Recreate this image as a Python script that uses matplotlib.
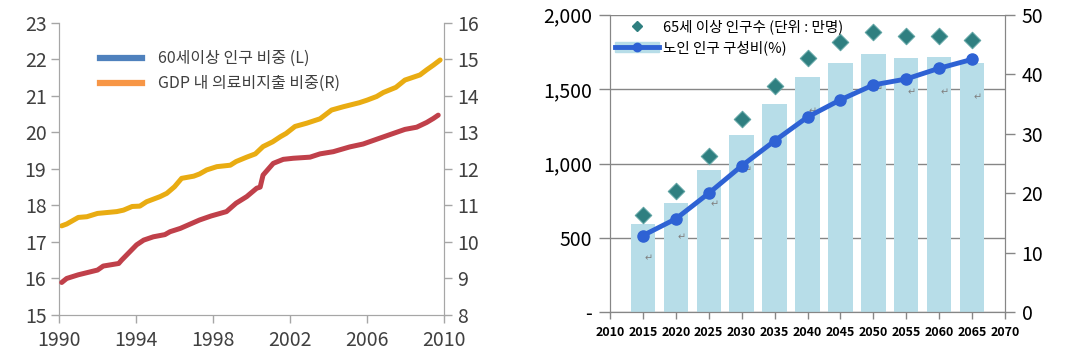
import numpy as np
import matplotlib.pyplot as plt
from matplotlib.lines import Line2D
from matplotlib.patches import Patch
from matplotlib.legend_handler import HandlerTuple

plt.rcParams['font.family'] = ['Noto Sans CJK KR', 'DejaVu Sans']

# ---- left chart: 60+ population share (L) and health spending share of GDP (R)
pop_years = [1990.14, 1990.4, 1991.0, 1992.0, 1992.3, 1993.1, 1993.25, 1994.03, 1994.4,
             1994.9, 1995.5, 1995.77, 1996.3, 1997.3, 1997.9, 1998.7, 1999.2, 1999.75,
             2000.27, 2000.45, 2000.6, 2001.13, 2001.65, 2002.17, 2003.04, 2003.56,
             2004.25, 2005.1, 2005.8, 2006.5, 2007.37, 2007.97, 2008.58, 2009.1,
             2009.45, 2009.7]
pop_share = [15.89, 16.0, 16.1, 16.23, 16.34, 16.41, 16.5, 16.92, 17.05,
             17.14, 17.2, 17.28, 17.37, 17.6, 17.71, 17.83, 18.06, 18.24,
             18.47, 18.5, 18.83, 19.15, 19.26, 19.29, 19.32, 19.41,
             19.47, 19.6, 19.68, 19.81, 19.97, 20.08, 20.14, 20.27,
             20.38, 20.47]

med_years = [1990.14, 1990.4, 1991.0, 1991.45, 1992.0, 1993.0, 1993.35, 1993.8, 1994.2,
             1994.55, 1995.25, 1995.6, 1996.0, 1996.37, 1997.0, 1997.3, 1997.67, 1998.2,
             1998.9, 1999.2, 1999.75, 2000.2, 2000.6, 2001.1, 2001.5, 2001.8, 2002.26,
             2002.87, 2003.56, 2004.16, 2004.77, 2005.6, 2006.0, 2006.5, 2006.85,
             2007.5, 2007.97, 2008.75, 2009.1, 2009.45, 2009.8]
med_share = [10.44, 10.49, 10.67, 10.69, 10.78, 10.83, 10.87, 10.97, 10.98,
             11.1, 11.24, 11.33, 11.51, 11.74, 11.8, 11.86, 11.97, 12.06,
             12.1, 12.2, 12.32, 12.41, 12.61, 12.74, 12.88, 12.97, 13.16,
             13.25, 13.37, 13.61, 13.7, 13.81, 13.88, 13.98, 14.09,
             14.23, 14.43, 14.57, 14.71, 14.84, 14.98]

left_legend = ['60세이상 인구 비중 (L)', 'GDP 내 의료비지출 비중(R)']

# ---- right chart: elderly population projections
proj_years = [2015, 2020, 2025, 2030, 2035, 2040, 2045, 2050, 2055, 2060, 2065]
bar_vals = [593, 737, 956, 1194, 1400, 1581, 1677, 1738, 1709, 1715, 1677]
elderly_pop = [654, 813, 1051, 1296, 1518, 1712, 1816, 1881, 1857, 1857, 1827]
elderly_ratio = [12.9, 15.7, 20.0, 24.6, 28.8, 32.8, 35.7, 38.2, 39.2, 41.0, 42.5]
mark_years = [2015, 2020, 2025, 2030, 2040, 2050, 2055, 2060, 2065]
mark_vals = [363, 504, 723, 956, 1348, 1498, 1476, 1476, 1442]
right_legend = ['65세 이상 인구수 (단위 : 만명)', '노인 인구 구성비(%)']

fig = plt.figure(figsize=(10.71, 3.61), dpi=100)

spine_c = '#A6A6A6'
txt_c = '#404040'

# ------------------ left chart
ax = fig.add_axes([59 / 1071, 1 - 315 / 361, 385 / 1071, 292.3 / 361])
ax2 = ax.twinx()
ax.plot(pop_years, pop_share, color='#C0404A', lw=3.6, solid_capstyle='round', zorder=3)
ax2.plot(med_years, med_share, color='#E9AC12', lw=3.6, solid_capstyle='round', zorder=3)
ax.set_xlim(1990, 2010)
ax.set_ylim(15, 23)
ax2.set_ylim(8, 16)
ax.set_xticks([1990, 1994, 1998, 2002, 2006, 2010])
ax.set_yticks(range(15, 24))
ax2.set_yticks(range(8, 17))
for a in (ax, ax2):
    a.spines['top'].set_visible(False)
    for s in ('left', 'right', 'bottom'):
        a.spines[s].set_color(spine_c)
    a.tick_params(colors=spine_c, labelcolor=txt_c, labelsize=14, length=6, width=1)
ax.tick_params(axis='x', pad=5)
ax.tick_params(axis='y', pad=3)
ax.set_zorder(ax2.get_zorder() + 1)
ax.patch.set_visible(False)
hl = [Line2D([], [], color='#4F81BD', lw=4.5), Line2D([], [], color='#F79646', lw=4.5)]
ax.legend(hl, left_legend, loc='upper left', bbox_to_anchor=(0.07, 0.955), frameon=False,
          fontsize=11.5, handlelength=2.6, handletextpad=1.0, labelspacing=0.5,
          labelcolor=txt_c)

# ------------------ right chart
bx = fig.add_axes([610 / 1071, 1 - 312.3 / 361, 395 / 1071, 297.6 / 361])
bx2 = bx.twinx()
bx.set_zorder(1)
bx2.set_zorder(2)
bx2.patch.set_visible(False)
bx.bar(proj_years, bar_vals, width=3.7, color='#B7DDE8', zorder=2)
bx.scatter(proj_years, elderly_pop, marker='D', s=70, color='#2F7F80',
           edgecolor='#5FA3A3', linewidth=0.8, zorder=4)
for yr, v in zip(mark_years, mark_vals):
    bx.annotate('↵', (yr, v), xytext=(4, 0), textcoords='offset points', fontsize=7,
                color='#808080', ha='center', va='center', zorder=5,
                family=['DejaVu Sans'])
bx2.plot(proj_years, elderly_ratio, color='#2E62D4', lw=3.5, marker='o', ms=8, zorder=5)
bx.set_xlim(2010, 2070)
bx.set_ylim(0, 2000)
bx2.set_ylim(0, 50)
bx.set_xticks(range(2010, 2071, 5))
bx.set_yticks([0, 500, 1000, 1500, 2000])
bx.set_yticklabels(['-', '500', '1,000', '1,500', '2,000'])
bx2.set_yticks(range(0, 51, 10))
bx.yaxis.grid(True, color='#868686', lw=1)
bx.set_axisbelow(True)
for a in (bx, bx2):
    a.spines['top'].set_visible(False)
    for s in ('left', 'right', 'bottom'):
        a.spines[s].set_color('#868686')
    a.tick_params(colors='#868686', labelcolor='black', labelsize=14, width=1)
bx.tick_params(axis='y', length=8, pad=5)
bx2.tick_params(axis='y', length=7, pad=5)
bx.tick_params(axis='x', length=5, labelsize=9, pad=5)
for lab in bx.get_xticklabels():
    lab.set_fontweight('bold')

h1 = Line2D([], [], ls='', marker='D', ms=5, color='#2F7F80')
h2 = (Patch(color='#B7DDE8'), Line2D([], [], color='#2E62D4', lw=3.5, marker='o', ms=6))
bx2.legend([h1, h2], right_legend, loc='upper left', bbox_to_anchor=(-0.02, 1.03),
           frameon=False, fontsize=10.5, handlelength=3.0, handletextpad=0.3,
           labelspacing=0.45, handler_map={tuple: HandlerTuple(ndivide=1, pad=0)})

fig.savefig('out.png', dpi=100)
